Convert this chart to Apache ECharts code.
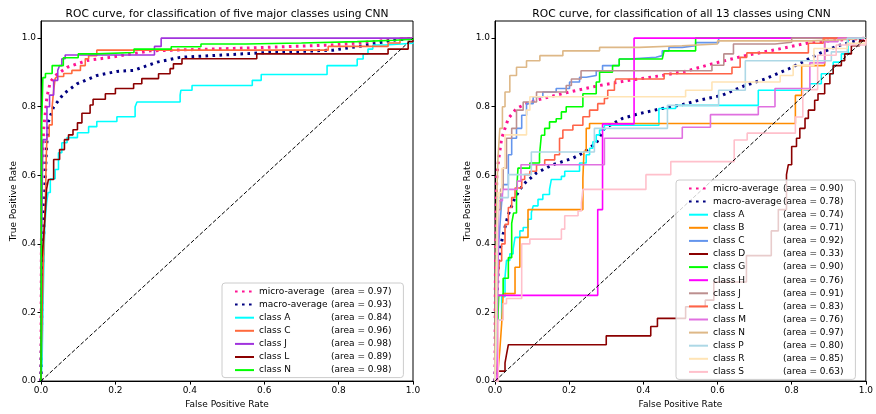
<!DOCTYPE html>
<html>
<head>
<meta charset="utf-8">
<script src="https://cdn.jsdelivr.net/npm/echarts@6/dist/echarts.min.js"></script>
<style>
  html, body { margin: 0; padding: 0; background: #fff; }
  #chart { width: 876px; height: 414px; }
</style>
</head>
<body>
<div id="chart"></div>
<script>
// ROC 曲线数据 (从图中读取的 [FPR, TPR] 拐点)
const tickValues = [0, 0.2, 0.4, 0.6, 0.8, 1.0];
const diagonal = [[0, 0], [1, 1]];

// ---- 左图: 五个主要类别 ----
const leftLabels = ['micro-average', 'macro-average', 'class A', 'class C', 'class J', 'class L', 'class N'];
const leftAreas = ['0.97', '0.93', '0.84', '0.96', '0.98', '0.89', '0.98'];

const leftMicro = [[0,0],[0.001,0.4],[0.003,0.6],[0.007,0.733],[0.016,0.829],[0.025,0.872],[0.038,0.891],[0.07,0.915],[0.124,0.935],[0.186,0.944],[0.294,0.963],[0.517,0.97],[0.785,0.98],[1,1]];
const leftMacro = [[0,0],[0.003,0.3],[0.008,0.45],[0.012,0.608],[0.015,0.684],[0.02,0.757],[0.034,0.8],[0.061,0.838],[0.097,0.867],[0.15,0.891],[0.204,0.903],[0.249,0.906],[0.312,0.93],[0.374,0.944],[0.607,0.958],[0.785,0.965],[0.866,0.978],[0.946,0.994],[1,1]];
const leftA = [[0,0],[0.003,0.06],[0.005,0.2],[0.008,0.36],[0.01,0.45],[0.015,0.52],[0.019,0.55],[0.025,0.59],[0.038,0.617],[0.047,0.666],[0.056,0.695],[0.07,0.71],[0.098,0.724],[0.128,0.742],[0.15,0.757],[0.204,0.771],[0.253,0.8],[0.258,0.814],[0.374,0.834],[0.376,0.848],[0.406,0.862],[0.568,0.877],[0.592,0.894],[0.769,0.92],[0.85,0.939],[0.866,0.954],[0.879,0.968],[0.892,0.98],[0.925,0.985],[1,1]];
const leftC = [[0,0],[0.003,0.2],[0.008,0.42],[0.012,0.53],[0.014,0.65],[0.016,0.713],[0.022,0.747],[0.03,0.8],[0.034,0.848],[0.038,0.882],[0.043,0.888],[0.061,0.897],[0.083,0.906],[0.106,0.92],[0.119,0.94],[0.128,0.949],[0.15,0.965],[0.772,0.976],[0.933,0.986],[0.965,1],[1,1]];
const leftJ = [[0,0],[0.001,0.3],[0.003,0.55],[0.005,0.704],[0.016,0.8],[0.023,0.834],[0.034,0.877],[0.045,0.906],[0.05,0.92],[0.056,0.94],[0.065,0.951],[0.305,0.976],[0.323,1],[1,1]];
const leftL = [[0,0],[0.002,0.35],[0.007,0.42],[0.012,0.5],[0.015,0.56],[0.02,0.588],[0.034,0.646],[0.05,0.675],[0.063,0.704],[0.074,0.718],[0.086,0.733],[0.098,0.753],[0.11,0.781],[0.132,0.805],[0.14,0.822],[0.173,0.838],[0.2,0.853],[0.249,0.867],[0.271,0.882],[0.316,0.896],[0.347,0.911],[0.356,0.925],[0.379,0.94],[0.58,0.954],[0.933,0.968],[0.987,0.99],[1,1]];
const leftN = [[0,0],[0.001,0.5],[0.002,0.75],[0.005,0.885],[0.012,0.897],[0.03,0.92],[0.06,0.943],[0.1,0.954],[0.15,0.958],[0.25,0.968],[0.35,0.975],[0.43,0.983],[0.55,0.986],[0.7,0.99],[0.85,0.994],[0.95,0.997],[1,1]];

// ---- 右图: 全部 13 个类别 ----
const rightLabels = ['micro-average', 'macro-average', 'class A', 'class B', 'class C', 'class D', 'class G',
  'class H', 'class J', 'class L', 'class M', 'class N', 'class P', 'class R', 'class S'];
const rightAreas = ['0.90', '0.78', '0.74', '0.71', '0.92', '0.33', '0.90', '0.76', '0.91', '0.83', '0.76', '0.97', '0.80', '0.85', '0.63'];

const rightMicro = [[0,0],[0.001,0.3],[0.003,0.5],[0.005,0.6],[0.009,0.64],[0.018,0.708],[0.036,0.766],[0.058,0.795],[0.094,0.814],[0.147,0.829],[0.201,0.843],[0.282,0.862],[0.362,0.877],[0.45,0.891],[0.52,0.905],[0.585,0.925],[0.675,0.949],[0.764,0.968],[0.853,0.988],[1,1]];
const rightMacro = [[0,0],[0.003,0.1],[0.006,0.25],[0.009,0.342],[0.013,0.38],[0.022,0.429],[0.036,0.486],[0.054,0.535],[0.076,0.573],[0.112,0.607],[0.156,0.631],[0.21,0.65],[0.237,0.665],[0.255,0.68],[0.273,0.694],[0.295,0.737],[0.344,0.766],[0.389,0.78],[0.451,0.795],[0.505,0.806],[0.55,0.819],[0.612,0.833],[0.675,0.862],[0.728,0.881],[0.791,0.91],[0.836,0.934],[0.88,0.958],[0.925,0.978],[1,1]];
const rightA = [[0,0],[0.005,0.05],[0.009,0.178],[0.018,0.246],[0.027,0.303],[0.031,0.352],[0.04,0.371],[0.049,0.385],[0.054,0.419],[0.067,0.438],[0.076,0.448],[0.089,0.472],[0.098,0.491],[0.103,0.511],[0.116,0.53],[0.129,0.544],[0.147,0.559],[0.152,0.588],[0.179,0.597],[0.188,0.612],[0.228,0.636],[0.246,0.66],[0.255,0.679],[0.264,0.698],[0.273,0.718],[0.282,0.732],[0.295,0.746],[0.442,0.795],[0.487,0.804],[0.71,0.848],[0.849,0.867],[0.88,0.896],[0.912,0.93],[0.934,0.954],[0.952,1],[1,1]];
const rightB = [[0,0],[0.008,0.03],[0.013,0.09],[0.018,0.168],[0.022,0.255],[0.054,0.332],[0.067,0.419],[0.089,0.5],[0.237,0.592],[0.24,0.67],[0.246,0.737],[0.255,0.751],[0.81,0.833],[0.827,0.92],[0.889,1],[1,1]];
const rightC = [[0,0],[0.003,0.1],[0.006,0.3],[0.01,0.4],[0.015,0.48],[0.02,0.55],[0.022,0.573],[0.036,0.66],[0.045,0.708],[0.058,0.737],[0.072,0.775],[0.085,0.809],[0.103,0.829],[0.129,0.843],[0.165,0.853],[0.201,0.872],[0.228,0.886],[0.246,0.891],[0.273,0.905],[0.29,0.92],[0.335,0.939],[0.362,0.944],[0.434,0.949],[0.451,0.963],[0.469,0.973],[0.505,0.978],[0.541,0.987],[0.603,1],[1,1]];
const rightD = [[0,0],[0.008,0.029],[0.027,0.053],[0.031,0.077],[0.036,0.106],[0.3,0.132],[0.42,0.159],[0.438,0.183],[0.514,0.217],[0.567,0.236],[0.59,0.289],[0.678,0.366],[0.745,0.438],[0.764,0.5],[0.786,0.602],[0.791,0.631],[0.8,0.684],[0.813,0.708],[0.822,0.737],[0.836,0.766],[0.845,0.79],[0.862,0.819],[0.871,0.838],[0.889,0.867],[0.903,0.896],[0.912,0.92],[0.934,0.934],[0.943,0.954],[0.961,0.978],[0.983,0.992],[1,1]];
const rightG = [[0,0],[0.005,0.1],[0.01,0.25],[0.022,0.3],[0.036,0.36],[0.045,0.46],[0.05,0.49],[0.058,0.55],[0.062,0.621],[0.094,0.636],[0.12,0.66],[0.125,0.717],[0.134,0.737],[0.147,0.756],[0.165,0.765],[0.179,0.785],[0.192,0.8],[0.237,0.838],[0.273,0.872],[0.282,0.901],[0.317,0.92],[0.335,0.939],[0.451,0.944],[0.456,0.963],[0.541,1],[1,1]];
const rightH = [[0,0],[0.006,0.25],[0.277,0.5],[0.29,0.75],[0.375,1],[1,1]];
const rightJ = [[0,0],[0.003,0.3],[0.008,0.5],[0.015,0.56],[0.022,0.621],[0.031,0.708],[0.045,0.737],[0.058,0.79],[0.076,0.814],[0.112,0.843],[0.192,0.862],[0.206,0.881],[0.232,0.905],[0.585,0.921],[0.617,0.954],[0.643,0.983],[0.755,0.988],[0.8,1],[1,1]];
const rightL = [[0,0],[0.003,0.05],[0.005,0.2],[0.008,0.3],[0.012,0.35],[0.018,0.4],[0.027,0.457],[0.036,0.506],[0.045,0.535],[0.054,0.563],[0.072,0.588],[0.08,0.602],[0.094,0.612],[0.112,0.631],[0.134,0.645],[0.161,0.66],[0.174,0.708],[0.183,0.732],[0.21,0.746],[0.237,0.771],[0.255,0.79],[0.277,0.809],[0.295,0.824],[0.304,0.848],[0.322,0.867],[0.326,0.881],[0.456,0.896],[0.639,0.915],[0.661,0.944],[0.679,0.957],[0.845,0.985],[0.885,1],[1,1]];
const rightM = [[0,0],[0.005,0.1],[0.008,0.3],[0.01,0.526],[0.02,0.559],[0.06,0.583],[0.07,0.631],[0.295,0.708],[0.505,0.74],[0.581,0.777],[0.71,0.8],[0.755,0.853],[0.849,0.928],[0.889,0.99],[0.925,1],[1,1]];
const rightN = [[0,0],[0.002,0.3],[0.005,0.55],[0.008,0.65],[0.013,0.737],[0.02,0.8],[0.027,0.843],[0.04,0.891],[0.058,0.915],[0.085,0.934],[0.121,0.949],[0.183,0.963],[0.282,0.973],[0.389,0.978],[0.504,0.983],[0.6,0.992],[0.853,0.995],[0.925,1],[1,1]];
const rightP = [[0,0],[0.003,0.1],[0.005,0.3],[0.008,0.535],[0.036,0.602],[0.098,0.668],[0.268,0.737],[0.465,0.804],[0.603,0.848],[0.675,0.934],[0.907,0.96],[0.95,1],[1,1]];
const rightR = [[0,0],[0.003,0.2],[0.006,0.45],[0.01,0.55],[0.018,0.62],[0.027,0.718],[0.085,0.79],[0.094,0.829],[0.514,0.848],[0.585,0.872],[0.769,0.891],[0.804,0.92],[0.86,0.97],[0.95,0.985],[1,1]];
const rightS = [[0,0],[0.009,0.178],[0.022,0.226],[0.031,0.241],[0.072,0.4],[0.094,0.414],[0.179,0.443],[0.188,0.482],[0.224,0.496],[0.233,0.52],[0.237,0.559],[0.407,0.602],[0.474,0.64],[0.645,0.703],[0.68,0.723],[0.81,0.77],[0.83,0.85],[0.87,0.95],[0.92,0.98],[1,1]];

const leftCurves = [leftMicro, leftMacro, leftA, leftC, leftJ, leftL, leftN];
const rightCurves = [rightMicro, rightMacro, rightA, rightB, rightC, rightD, rightG, rightH, rightJ, rightL, rightM, rightN, rightP, rightR, rightS];

// 颜色 (matplotlib 命名色)
const leftColors = ['#ff1493', '#000080', '#00ffff', '#ff6a3d', '#a033dd', '#8b0000', '#00ff00'];
const rightColors = ['#ff1493', '#000080', '#00ffff', '#ff8c00', '#6495ed', '#8b0000', '#00ff00',
  '#ff00ff', '#bc8f8f', '#ff6347', '#e070e0', '#deb887', '#add8e6', '#ffe4b5', '#ffc0cb'];

const FONT = 'DejaVu Sans';

function buildSeries(side, gridIndex, labels, areas, curves, colors) {
  return curves.map((data, i) => {
    const avg = i < 2;
    return {
      name: side + '|' + labels[i] + '|' + areas[i],
      type: 'line',
      xAxisIndex: gridIndex,
      yAxisIndex: gridIndex,
      data: data,
      symbol: 'none',
      step: avg ? false : 'end',
      silent: true,
      color: colors[i],
      lineStyle: avg
        ? { color: colors[i], width: 3, type: [2.6, 4.4], cap: 'butt' }
        : { color: colors[i], width: 1.6 }
    };
  });
}

function diagSeries(gridIndex) {
  return {
    name: 'chance' + gridIndex,
    type: 'line',
    xAxisIndex: gridIndex,
    yAxisIndex: gridIndex,
    data: diagonal,
    symbol: 'none',
    silent: true,
    lineStyle: { color: '#000', width: 1, type: [4, 2] }
  };
}

function axisPair(gridIndex) {
  const common = {
    type: 'value',
    gridIndex: gridIndex,
    min: 0,
    splitLine: { show: false },
    axisLine: { show: true, onZero: false, lineStyle: { color: '#000', width: 1 } },
    axisTick: { show: true, length: 3.5, lineStyle: { color: '#000' }, customValues: tickValues },
    axisLabel: { customValues: tickValues, formatter: v => v.toFixed(1), color: '#000', fontSize: 9, fontFamily: FONT },
    nameLocation: 'middle',
    nameTextStyle: { color: '#000', fontSize: 9, fontFamily: FONT }
  };
  return {
    x: Object.assign({}, common, { max: 1, name: 'False Positive Rate', nameGap: 18,
      axisLabel: Object.assign({}, common.axisLabel, { margin: 5 }) }),
    y: Object.assign({}, common, { max: 1.05, name: 'True Positive Rate', nameGap: 23,
      axisLabel: Object.assign({}, common.axisLabel, { margin: 5 }) })
  };
}

function legendFor(seriesList, left, top, nameWidth) {
  return {
    orient: 'vertical',
    left: left,
    top: top,
    data: seriesList.map(s => s.name),
    selectedMode: false,
    itemWidth: 19,
    itemHeight: 10,
    itemGap: 2.1,
    padding: [3, 12, 2, 12],
    backgroundColor: 'rgba(255,255,255,0.8)',
    borderColor: '#cccccc',
    borderWidth: 1,
    borderRadius: 3,
    // 只保留图例中的线段, 隐藏圆点符号
    itemStyle: { opacity: 0 },
    formatter: name => {
      const parts = name.split('|');
      return '{n|' + parts[1] + '}{a|(area = ' + parts[2] + ')}';
    },
    textStyle: {
      color: '#000', fontSize: 9, fontFamily: FONT, lineHeight: 11,
      rich: {
        n: { width: nameWidth, fontSize: 9, fontFamily: FONT, color: '#000' },
        a: { fontSize: 9, fontFamily: FONT, color: '#000' }
      }
    }
  };
}

const leftSeries = buildSeries('L', 0, leftLabels, leftAreas, leftCurves, leftColors);
const rightSeries = buildSeries('R', 1, rightLabels, rightAreas, rightCurves, rightColors);
const axL = axisPair(0);
const axR = axisPair(1);

const chart = echarts.init(document.getElementById('chart'), null, { renderer: 'canvas' });
chart.setOption({
  animation: false,
  backgroundColor: '#fff',
  textStyle: { fontFamily: FONT },
  grid: [
    { left: 41, right: 463, top: 21, bottom: 30, show: true, borderColor: '#000', borderWidth: 1, backgroundColor: 'transparent' },
    { left: 495, right: 8, top: 21, bottom: 30, show: true, borderColor: '#000', borderWidth: 1, backgroundColor: 'transparent' }
  ],
  xAxis: [axL.x, axR.x],
  yAxis: [axL.y, axR.y],
  legend: [
    legendFor(leftSeries, 222, 283, 72),
    legendFor(rightSeries, 676, 180, 70)
  ],
  graphic: [
    { type: 'text', x: 227, y: 14, silent: true,
      style: { text: 'ROC curve, for classification of five major classes using CNN', align: 'center', verticalAlign: 'middle',
        fontSize: 10.7, fontFamily: FONT, fill: '#000' } },
    { type: 'text', x: 681.5, y: 14, silent: true,
      style: { text: 'ROC curve, for classification of all 13 classes using CNN', align: 'center', verticalAlign: 'middle',
        fontSize: 10.7, fontFamily: FONT, fill: '#000' } }
  ],
  series: leftSeries.concat([diagSeries(0)], rightSeries, [diagSeries(1)])
});

window.addEventListener('resize', () => chart.resize());
</script>
</body>
</html>
